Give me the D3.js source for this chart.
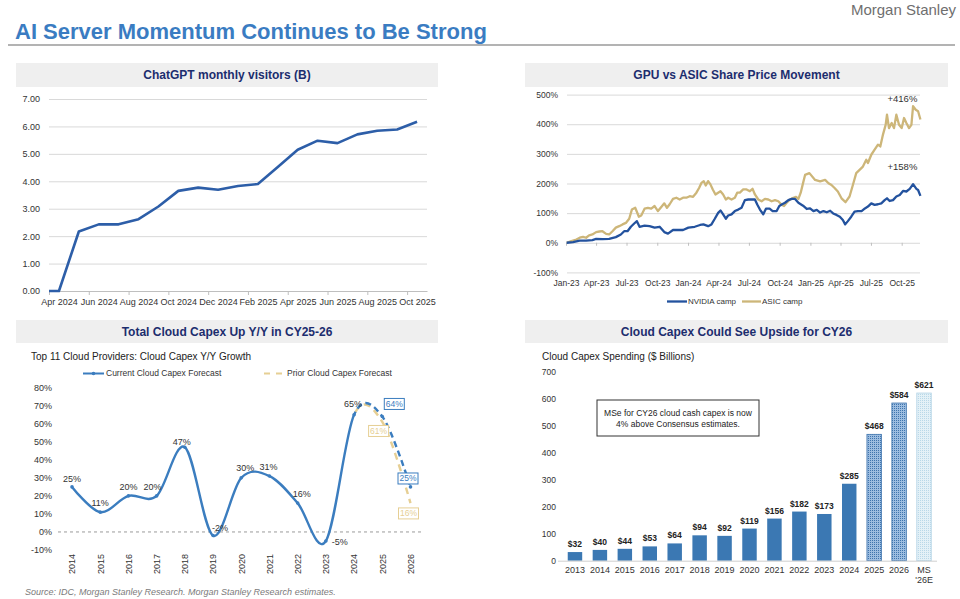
<!DOCTYPE html>
<html><head><meta charset="utf-8">
<script src="https://cdn.jsdelivr.net/npm/d3@7"></script>
<style>body{margin:0;background:#fff} svg{font-family:"Liberation Sans",Arial,Helvetica,sans-serif}</style>
</head><body><svg id="c" width="960" height="599"></svg>
<script>
// ---------- DATA ----------
const gptMonths = ["Apr 2024","May 2024","Jun 2024","Jul 2024","Aug 2024","Sep 2024","Oct 2024","Nov 2024","Dec 2024",
  "Jan 2025","Feb 2025","Mar 2025","Apr 2025","May 2025","Jun 2025","Jul 2025","Aug 2025","Sep 2025","Oct 2025"];
const gptVisitors = [0,2.17,2.43,2.43,2.62,3.08,3.65,3.77,3.69,3.83,3.90,4.52,5.15,5.48,5.39,5.71,5.84,5.89,6.17];
const gptYTicks = [0,1,2,3,4,5,6,7];

const nvidiaDates = ["2023-01-03","2023-01-22","2023-02-11","2023-03-02","2023-03-21","2023-04-01","2023-04-20","2023-05-10","2023-05-30","2023-06-14",
 "2023-06-24","2023-07-04","2023-07-14","2023-07-24","2023-08-01","2023-08-09","2023-08-24","2023-09-08","2023-09-23","2023-10-08",
 "2023-10-22","2023-11-02","2023-11-17","2023-12-07","2023-12-17","2024-01-02","2024-01-21","2024-02-06","2024-02-16","2024-03-01",
 "2024-03-11","2024-03-21","2024-03-31","2024-04-07","2024-04-15","2024-04-23","2024-04-30","2024-05-10","2024-05-20","2024-05-30",
 "2024-06-09","2024-06-19","2024-06-29","2024-07-09","2024-07-19","2024-07-26","2024-08-03","2024-08-13","2024-08-21","2024-09-01",
 "2024-09-10","2024-09-22","2024-09-30","2024-10-07","2024-10-17","2024-10-27","2024-11-06","2024-11-16","2024-11-26","2024-12-10",
 "2024-12-21","2024-12-31","2025-01-10","2025-01-20","2025-01-30","2025-02-09","2025-02-19","2025-03-01","2025-03-10","2025-03-20",
 "2025-03-30","2025-04-08","2025-04-15","2025-04-23","2025-05-03","2025-05-13","2025-05-23","2025-06-03","2025-06-13","2025-06-22",
 "2025-07-02","2025-07-12","2025-07-22","2025-08-01","2025-08-11","2025-08-18","2025-08-26","2025-09-05","2025-09-15","2025-09-25",
 "2025-10-05","2025-10-15","2025-10-25","2025-11-04","2025-11-14","2025-11-19","2025-11-26"];
const nvidiaValues = [0,2,7,7,9,13,12,13,19,28, 39,39,54,65,73,54,58,56,51,54, 36,31,43,43,43,51,54,60,62,56,
 62,81,101,109,96,81,92,96,107,112, 118,144,146,146,146,129,112,96,115,115, 107,107,124,129,135,144,148,148,135,125,
 114,116,107,111,102,107,103,108,99,94, 88,77,62,73,88,105,107,107,116,122, 133,128,130,133,144,150,141,144,156,161,
 175,173,182,198,182,178,158];

const asicDates = ["2023-01-03","2023-01-17","2023-02-01","2023-02-11","2023-02-21","2023-03-02","2023-03-11","2023-03-21","2023-04-01","2023-04-11",
 "2023-04-20","2023-05-01","2023-05-10","2023-05-20","2023-05-30","2023-06-09","2023-06-19","2023-06-29","2023-07-09","2023-07-17",
 "2023-07-27","2023-08-07","2023-08-14","2023-08-24","2023-09-03","2023-09-13","2023-09-23","2023-10-03","2023-10-13","2023-10-22",
 "2023-10-30","2023-11-07","2023-11-17","2023-11-27","2023-12-07","2023-12-17","2023-12-27","2024-01-06","2024-01-16","2024-01-26",
 "2024-02-03","2024-02-10","2024-02-17","2024-02-23","2024-03-01","2024-03-08","2024-03-15","2024-03-23","2024-03-31","2024-04-07",
 "2024-04-15","2024-04-23","2024-04-30","2024-05-10","2024-05-20","2024-05-27","2024-06-04","2024-06-14","2024-06-24","2024-07-04",
 "2024-07-12","2024-07-19","2024-07-29","2024-08-08","2024-08-18","2024-08-28","2024-09-07","2024-09-17","2024-09-27","2024-10-07",
 "2024-10-14","2024-10-22","2024-11-01","2024-11-11","2024-11-19","2024-11-26","2024-12-03","2024-12-09","2024-12-16","2024-12-29",
 "2025-01-15","2025-01-30","2025-02-14","2025-02-24","2025-03-05","2025-03-15","2025-03-24","2025-04-04","2025-04-16","2025-04-28",
 "2025-05-08","2025-05-18","2025-05-28","2025-06-07","2025-06-17","2025-06-22","2025-07-02","2025-07-12","2025-07-22","2025-07-29",
 "2025-08-06","2025-08-14","2025-08-18","2025-08-24","2025-09-01","2025-09-08","2025-09-15","2025-09-23","2025-10-01","2025-10-08",
 "2025-10-15","2025-10-23","2025-10-30","2025-11-04","2025-11-12","2025-11-19","2025-11-26"];
const asicValues = [0,6,11,17,20,17,25,28,36,38, 39,30,28,39,51,56,62,67,81,112, 118,88,92,115,118,115,124,107,121,133,
 118,130,148,152,146,152,152,157,155,169, 185,202,208,193,208,197,180,163,169,174, 163,146,152,146,152,169,169,180,180,174,
 182,163,146,140,148,146,140,144,140,128, 124,135,146,152,155,148,169,197,229,235, 212,207,212,201,195,184,173,150,137,156,
 195,235,246,257,280,269,297,314,331,325, 365,398,432,387,404,387,432,398,387,421, 404,387,398,461,449,444,416];
const shareTicks = [-100,0,100,200,300,400,500];
const shareEndLabels = ["+158%","+416%"];

const capexYears = [2014,2015,2016,2017,2018,2019,2020,2021,2022,2023,2024,2025,2026];
const currentGrowth = [25,11,20,20,47,-2,30,31,16,-5,65,64,25];
const priorYears = [2023,2024,2025,2026];
const priorGrowth = [-5,65,61,16];
const growthTicks = [-10,0,10,20,30,40,50,60,70,80];

const spendCats = ["2013","2014","2015","2016","2017","2018","2019","2020","2021","2022","2023","2024","2025","2026","MS '26E"];
const spendValues = [32,40,44,53,64,94,92,119,156,182,173,285,468,584,621];
const spendTicks = [0,100,200,300,400,500,600,700];

// ---------- SETUP ----------
const svg = d3.select("#c");
const defs = svg.append("defs");
function styleAxis(g, size, fill) {
  g.selectAll("text").attr("font-size", size).attr("fill", fill || "#333");
}

// Header
svg.append("text").attr("x",956).attr("y",15).attr("text-anchor","end").attr("font-size",15).attr("fill","#6f6f6f").text("Morgan Stanley");
svg.append("text").attr("x",15).attr("y",39).attr("font-size",22).attr("font-weight","bold").attr("fill","#3a7cc2").text("AI Server Momentum Continues to Be Strong");
svg.append("line").attr("x1",8).attr("x2",955).attr("y1",45).attr("y2",45).attr("stroke","#9a9a9a").attr("stroke-width",1.5);

function titleBar(x, y, w, h, txt) {
  svg.append("rect").attr("x",x).attr("y",y).attr("width",w).attr("height",h).attr("fill","#efefef");
  svg.append("text").attr("x",x+w/2).attr("y",y+h/2).attr("dy","0.36em").attr("text-anchor","middle")
    .attr("font-size",12).attr("font-weight","bold").attr("fill","#1c2d6e").text(txt);
}
titleBar(16,63,422,24,"ChatGPT monthly visitors (B)");
titleBar(525,63,423,24,"GPU vs ASIC Share Price Movement");
titleBar(16,320,422,23,"Total Cloud Capex Up Y/Y in CY25-26");
titleBar(525,320,423,23,"Cloud Capex Could See Upside for CY26");

// ---------- PANEL 1 ----------
{
  const x = d3.scaleLinear().domain([-0.5, gptMonths.length - 0.5]).range([49, 427]);
  const y = d3.scaleLinear().domain([0, 7]).range([291, 99]);
  svg.append("g").attr("transform","translate(49,0)")
    .call(d3.axisLeft(y).tickValues(gptYTicks).tickSize(-378).tickPadding(9).tickFormat(d3.format(".2f")))
    .call(g => { g.select(".domain").remove(); g.selectAll("line").attr("stroke","#d9d9d9"); styleAxis(g, 9); });
  const bound = d3.range(0, gptMonths.length, 2).map(i => i - 0.5);
  svg.append("g").attr("transform","translate(0,291)")
    .call(d3.axisBottom(x).tickValues(bound).tickSize(4).tickSizeOuter(0).tickFormat(""))
    .call(g => { g.selectAll("line,path").attr("stroke","#bfbfbf"); });
  svg.append("g").attr("transform","translate(0,291)")
    .call(d3.axisBottom(x).tickValues(d3.range(0, gptMonths.length, 2)).tickSize(0).tickPadding(8).tickFormat(i => gptMonths[i]))
    .call(g => { g.select(".domain").remove(); styleAxis(g, 9); });
  const pts = [{i: -0.5, v: gptVisitors[0]}].concat(gptVisitors.map((v, i) => ({i, v})));
  svg.append("path").datum(pts).attr("fill","none").attr("stroke","#2d5ea8").attr("stroke-width",2.6)
    .attr("stroke-linejoin","round")
    .attr("d", d3.line().x(d => x(d.i)).y(d => y(d.v)));
}

// ---------- PANEL 2 ----------
{
  const parse = d3.timeParse("%Y-%m-%d");
  const x = d3.scaleTime().domain([new Date(2023,0,1), new Date(2025,9,1)]).range([566, 901.7]);
  const y = d3.scaleLinear().domain([-100, 500]).range([272.4, 94.6]);
  svg.append("g").attr("transform","translate(567,0)")
    .call(d3.axisLeft(y).tickValues(shareTicks).tickSize(-353).tickPadding(9).tickFormat(d => d + "%"))
    .call(g => { g.select(".domain").remove(); g.selectAll("line").attr("stroke","#d9d9d9"); styleAxis(g, 8.5); });
  const qt = d3.timeMonth.every(3).range(new Date(2023,0,1), new Date(2025,10,1));
  svg.append("g").attr("transform",`translate(0,${y(0)})`)
    .call(d3.axisBottom(x).tickValues(qt).tickSize(3).tickFormat(""))
    .call(g => { g.select(".domain").remove(); g.selectAll("line").attr("stroke","#bfbfbf"); });
  svg.append("g").attr("transform",`translate(0,${y(-100)})`)
    .call(d3.axisBottom(x).tickValues(qt).tickSize(0).tickPadding(8).tickFormat(d3.timeFormat("%b-%y")))
    .call(g => { g.select(".domain").remove(); styleAxis(g, 8.5); });
  const line = d3.line().x(d => x(d.d)).y(d => y(d.v));
  const asic = asicDates.map((s, i) => ({d: parse(s), v: asicValues[i]}));
  const nv = nvidiaDates.map((s, i) => ({d: parse(s), v: nvidiaValues[i]}));
  svg.append("path").datum(asic).attr("fill","none").attr("stroke","#cdb679").attr("stroke-width",2.3).attr("stroke-linejoin","round").attr("d", line);
  svg.append("path").datum(nv).attr("fill","none").attr("stroke","#23529e").attr("stroke-width",2.3).attr("stroke-linejoin","round").attr("d", line);
  const lastNv = nv[nv.length-1], lastAs = asic[asic.length-1];
  svg.append("text").attr("x", x(lastNv.d) - 18).attr("y", y(lastNv.v) - 26).attr("text-anchor","middle").attr("font-size",9.5).attr("fill","#333").text(shareEndLabels[0]);
  svg.append("text").attr("x", x(lastAs.d) - 18).attr("y", y(500) + 7).attr("text-anchor","middle").attr("font-size",9.5).attr("fill","#333").text(shareEndLabels[1]);
  // legend
  const lg = svg.append("g").attr("font-size",8);
  lg.append("line").attr("x1",667).attr("x2",687).attr("y1",301.5).attr("y2",301.5).attr("stroke","#23529e").attr("stroke-width",2.3);
  lg.append("text").attr("x",688).attr("y",301.5).attr("dy","0.35em").attr("fill","#333").text("NVIDIA camp");
  lg.append("line").attr("x1",742).attr("x2",761).attr("y1",301.5).attr("y2",301.5).attr("stroke","#cdb679").attr("stroke-width",2.3);
  lg.append("text").attr("x",762).attr("y",301.5).attr("dy","0.35em").attr("fill","#333").text("ASIC camp");
}

// ---------- PANEL 3 ----------
{
  const x = d3.scaleLinear().domain([2014, 2026]).range([72, 410.5]);
  const y = d3.scaleLinear().domain([-10, 80]).range([550, 387.7]);
  const blue = "#3b7dbf", beige = "#e6cf94";
  svg.append("text").attr("x",31).attr("y",356).attr("dy","0.35em").attr("font-size",10).attr("fill","#222").text("Top 11 Cloud Providers: Cloud Capex Y/Y Growth");
  svg.append("g").attr("transform","translate(52,0)")
    .call(d3.axisLeft(y).tickValues(growthTicks).tickSize(0).tickPadding(0).tickFormat(d => d + "%"))
    .call(g => { g.select(".domain").remove(); styleAxis(g, 9); });
  svg.append("line").attr("x1",58).attr("x2",424).attr("y1",y(0)).attr("y2",y(0)).attr("stroke","#9a9a9a").attr("stroke-dasharray","3,3");
  svg.append("g").selectAll("text").data(capexYears).join("text")
    .attr("transform", d => `translate(${x(d)+3.3},574) rotate(-90)`).attr("font-size",9).attr("fill","#333").text(d => d);
  // legend
  svg.append("line").attr("x1",83).attr("x2",104).attr("y1",373.5).attr("y2",373.5).attr("stroke",blue).attr("stroke-width",2);
  svg.append("circle").attr("cx",93.5).attr("cy",373.5).attr("r",1.8).attr("fill",blue);
  svg.append("text").attr("x",106).attr("y",373.5).attr("dy","0.35em").attr("font-size",8.5).attr("fill","#333").text("Current Cloud Capex Forecast");
  svg.append("line").attr("x1",264).attr("x2",284).attr("y1",373.5).attr("y2",373.5).attr("stroke",beige).attr("stroke-width",2).attr("stroke-dasharray","6,6");
  svg.append("text").attr("x",287).attr("y",373.5).attr("dy","0.35em").attr("font-size",8.5).attr("fill","#333").text("Prior Cloud Capex Forecast");

  const cutX = x(2024);
  defs.append("clipPath").attr("id","clipSolid").append("rect").attr("x",0).attr("y",300).attr("width",cutX).attr("height",300);
  defs.append("clipPath").attr("id","clipDash").append("rect").attr("x",cutX).attr("y",300).attr("width",200).attr("height",300);
  const line = d3.line().curve(d3.curveCardinal).x(d => x(d.yr)).y(d => y(d.v));
  const cur = capexYears.map((yr, i) => ({yr, v: currentGrowth[i]}));
  const pri = priorYears.map((yr, i) => ({yr, v: priorGrowth[i]}));
  svg.append("path").datum(pri).attr("clip-path","url(#clipDash)").attr("fill","none").attr("stroke",beige).attr("stroke-width",2.4).attr("stroke-dasharray","7,5").attr("d", line);
  svg.append("path").datum(cur).attr("clip-path","url(#clipSolid)").attr("fill","none").attr("stroke",blue).attr("stroke-width",2.4).attr("d", line);
  svg.append("path").datum(cur).attr("clip-path","url(#clipDash)").attr("fill","none").attr("stroke",blue).attr("stroke-width",2.4).attr("stroke-dasharray","6,4").attr("d", line);
  svg.append("g").selectAll("circle").data(cur).join("circle").attr("cx", d => x(d.yr)).attr("cy", d => y(d.v)).attr("r",1.8).attr("fill",blue);

  // data labels (offsets from points)
  const off = [[0,-8],[0,-9.5],[0,-9.3],[-4,-9.3],[-3,-5],[7,-8],[4,-9.6],[-1,-9.5],[4,-9],[14,0.7],[-1,-10.5]];
  cur.slice(0, 11).forEach((d, i) => {
    svg.append("text").attr("x", x(d.yr) + off[i][0]).attr("y", y(d.v) + off[i][1]).attr("dy","0.35em")
      .attr("text-anchor","middle").attr("font-size",9).attr("fill","#333").text(d.v + "%");
  });
  function boxLabel(px, py, txt, col) {
    svg.append("rect").attr("x", px - 10).attr("y", py - 5.5).attr("width",20).attr("height",11).attr("fill","#fff").attr("stroke",col).attr("stroke-width",1);
    svg.append("text").attr("x", px).attr("y", py).attr("dy","0.35em").attr("text-anchor","middle").attr("font-size",8.5).attr("fill",col).text(txt);
  }
  boxLabel(x(2025) + 12, y(currentGrowth[11]) - 12.6, currentGrowth[11] + "%", blue);
  boxLabel(x(2025) - 3.7, y(priorGrowth[2]) + 9, priorGrowth[2] + "%", beige);
  boxLabel(x(2026) - 2.5, y(currentGrowth[12]) - 8.4, currentGrowth[12] + "%", blue);
  boxLabel(x(2026) - 2, y(priorGrowth[3]) + 10.3, priorGrowth[3] + "%", beige);

  svg.append("text").attr("x",25).attr("y",592).attr("dy","0.35em").attr("font-size",9).attr("font-style","italic").attr("fill","#7a7a7a")
    .text("Source: IDC, Morgan Stanley Research. Morgan Stanley Research estimates.");
}

// ---------- PANEL 4 ----------
{
  const x = d3.scaleBand().domain(spendCats).range([562.5, 936.5]).paddingInner(0.42).paddingOuter(0.21);
  const y = d3.scaleLinear().domain([0, 700]).range([560.7, 371.7]);
  svg.append("text").attr("x",542).attr("y",356).attr("dy","0.35em").attr("font-size",10).attr("fill","#222").text("Cloud Capex Spending ($ Billions)");
  svg.append("g").attr("transform","translate(556,0)")
    .call(d3.axisLeft(y).tickValues(spendTicks).tickSize(0).tickPadding(0))
    .call(g => { g.select(".domain").remove(); styleAxis(g, 8.5); });
  const pm = defs.append("pattern").attr("id","dotMid").attr("width",2).attr("height",2).attr("patternUnits","userSpaceOnUse");
  pm.append("rect").attr("width",2).attr("height",2).attr("fill","#9dbde0");
  pm.append("rect").attr("width",1).attr("height",1).attr("fill","#3e74ad");
  const pl = defs.append("pattern").attr("id","dotLight").attr("width",2).attr("height",2).attr("patternUnits","userSpaceOnUse");
  pl.append("rect").attr("width",2).attr("height",2).attr("fill","#e4f1f7");
  pl.append("rect").attr("width",1).attr("height",1).attr("fill","#b9d8e8");
  const fillFor = i => i < 12 ? "#3b78b3" : (i < 14 ? "url(#dotMid)" : "url(#dotLight)");
  const strokeFor = i => i < 12 ? "none" : (i < 14 ? "#3e74ad" : "#b3d3e6");
  svg.append("g").selectAll("rect").data(spendValues).join("rect")
    .attr("x", (d, i) => x(spendCats[i])).attr("width", x.bandwidth())
    .attr("y", d => y(d)).attr("height", d => y(0) - y(d))
    .attr("fill", (d, i) => fillFor(i)).attr("stroke", (d, i) => strokeFor(i)).attr("stroke-width", 0.8);
  svg.append("g").selectAll("text").data(spendValues).join("text")
    .attr("x", (d, i) => x(spendCats[i]) + x.bandwidth()/2).attr("y", d => y(d) - 5)
    .attr("text-anchor","middle").attr("font-size",8.5).attr("font-weight","bold").attr("fill","#222").text(d => "$" + d);
  svg.append("g").attr("transform",`translate(0,${y(0)})`)
    .call(d3.axisBottom(x).tickSize(0).tickPadding(6).tickSizeOuter(0))
    .call(g => { g.select(".domain").attr("stroke","#cfcfcf").attr("d", `M558,0.5H937`); styleAxis(g, 9);
      g.selectAll("text").filter(d => d.includes(" ")).each(function(d) {
        const t = d3.select(this), parts = d.split(" "); t.text(null);
        parts.forEach((p, k) => t.append("tspan").attr("x",0).attr("dy", k === 0 ? "0.71em" : "1.1em").text(p));
      }); });
  // annotation box
  svg.append("rect").attr("x",597).attr("y",400).attr("width",162).attr("height",36).attr("fill","#fff").attr("stroke","#333").attr("stroke-width",1);
  svg.append("text").attr("x",678).attr("y",413).attr("dy","0.35em").attr("text-anchor","middle").attr("font-size",8.5).attr("fill","#222").text("MSe for CY26 cloud cash capex is now");
  svg.append("text").attr("x",678).attr("y",424).attr("dy","0.35em").attr("text-anchor","middle").attr("font-size",8.5).attr("fill","#222").text("4% above Consensus estimates.");
}
</script></body></html>
